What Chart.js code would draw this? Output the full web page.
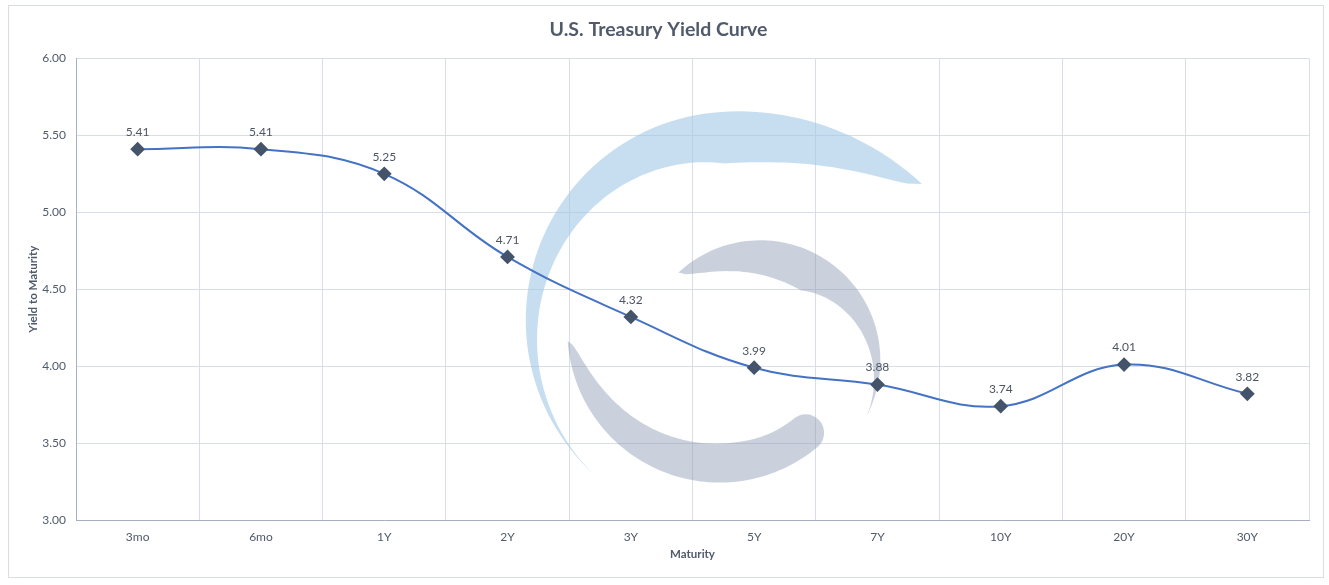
<!DOCTYPE html>
<html>
<head>
<meta charset="utf-8">
<script src="https://cdn.jsdelivr.net/npm/chart.js@4.4.0/dist/chart.umd.min.js"></script>
<style>
  body { margin: 0; background: #fff; }
  canvas { display: block; }
</style>
</head>
<body>
<canvas id="yieldChart" width="1329" height="585"></canvas>
<script>
/* DATA */
var maturities = ['3mo', '6mo', '1Y', '2Y', '3Y', '5Y', '7Y', '10Y', '20Y', '30Y'];
var yields = [5.41, 5.41, 5.25, 4.71, 4.32, 3.99, 3.88, 3.74, 4.01, 3.82];
var yMin = 3.0, yMax = 6.0, yStep = 0.5;

var FONT = "Lato, 'Open Sans', sans-serif";
var TEXT = '#505a6b';

/* frame around the whole chart */
var framePlugin = {
	id: 'frame',
	beforeDraw: function(chart) {
		var ctx = chart.ctx;
		ctx.save();
		ctx.fillStyle = '#fff';
		ctx.fillRect(0, 0, chart.width, chart.height);
		ctx.strokeStyle = '#d9dde4';
		ctx.lineWidth = 1;
		ctx.strokeRect(8.5, 5.5, chart.width - 14, chart.height - 13);
		ctx.restore();
	}
};

/* faint logo behind the line */
function crescent(ctx, cx, cy, r, a0, a1, wMax, peak, wEnd, ext) {
	var n = 80, i, t, a, w, ro, pts = [];
	for (i = 0; i <= n; i++) {
		t = i / n;
		if (t < peak) w = wMax * Math.pow(Math.sin(Math.PI / 2 * t / peak), 0.6);
		else w = wEnd + (wMax - wEnd) * Math.pow(1 - (t - peak) / (1 - peak), 1.4);
		ro = r + (t < peak ? ext * Math.pow(1 - t / peak, 2) : 0);
		a = a0 + (a1 - a0) * t;
		pts.push([a, w, ro]);
	}
	ctx.beginPath();
	for (i = 0; i <= n; i++) {
		ctx.lineTo(cx + pts[i][2] * Math.cos(pts[i][0]), cy + pts[i][2] * Math.sin(pts[i][0]));
	}
	for (i = n; i >= 0; i--) {
		ctx.lineTo(cx + (pts[i][2] - pts[i][1]) * Math.cos(pts[i][0]), cy + (pts[i][2] - pts[i][1]) * Math.sin(pts[i][0]));
	}
	ctx.closePath();
	if (wEnd > 0) {
		var rm = r - wEnd / 2;
		ctx.moveTo(cx + rm * Math.cos(a1) + wEnd / 2, cy + rm * Math.sin(a1));
		ctx.arc(cx + rm * Math.cos(a1), cy + rm * Math.sin(a1), wEnd / 2, 0, Math.PI * 2, a1 < a0);
	}
	ctx.fill('nonzero');
}

var logoPlugin = {
	id: 'logo',
	beforeDatasetsDraw: function(chart) {
		var ctx = chart.ctx, a = chart.chartArea;
		var w = a.right - a.left, h = a.bottom - a.top;
		var deg = Math.PI / 180;
		ctx.save();
		ctx.fillStyle = 'rgba(160,200,228,0.6)';
		crescent(ctx, a.left + 0.534 * w, a.top + 0.567 * h, 0.452 * h, -36 * deg, -228 * deg, 0.112 * h, 0.3, 0, 0.05 * h);
		ctx.fillStyle = 'rgba(140,152,178,0.45)';
		crescent(ctx, a.left + 0.555 * w, a.top + 0.654 * h, 0.26 * h, -133 * deg, 29 * deg, 0.085 * h, 0.45, 0, 0);
		crescent(ctx, a.left + 0.522 * w, a.top + 0.589 * h, 0.33 * h, 176 * deg, 50 * deg, 0.085 * h, 0.75, 0.08 * h, 0);
		ctx.restore();
	}
};

/* value labels above each point */
var labelPlugin = {
	id: 'valueLabels',
	afterDatasetsDraw: function(chart) {
		var ctx = chart.ctx;
		var meta = chart.getDatasetMeta(0);
		ctx.save();
		ctx.font = '12px ' + FONT;
		ctx.fillStyle = '#4d5563';
		ctx.textAlign = 'center';
		ctx.textBaseline = 'bottom';
		meta.data.forEach(function(pt, i) {
			ctx.fillText(yields[i].toFixed(2), pt.x, pt.y - 11);
		});
		ctx.restore();
	}
};

var ctxLine = document.getElementById('yieldChart').getContext('2d');
var yieldChart = new Chart(ctxLine, {
	type: 'line',
	data: {
		labels: maturities,
		datasets: [{
			data: yields,
			borderColor: '#4472c4',
			borderWidth: 2,
			tension: 0.4,
			pointStyle: 'rectRot',
			pointRadius: 6,
			pointHoverRadius: 6,
			pointBackgroundColor: '#44546a',
			pointBorderColor: '#44546a',
			fill: false
		}]
	},
	options: {
		responsive: false,
		animation: false,
		layout: { padding: { left: 8, right: 20, top: 0, bottom: 20 } },
		plugins: {
			legend: { display: false },
			tooltip: { enabled: false },
			title: {
				display: true,
				text: 'U.S. Treasury Yield Curve',
				color: TEXT,
				font: { family: FONT, size: 19.5, weight: 'bold' },
				padding: { top: 18, bottom: 17 }
			}
		},
		scales: {
			x: {
				offset: true,
				grid: { offset: true, color: '#d9dde6', drawTicks: false },
				border: { color: '#a6b0bf', width: 1 },
				ticks: { color: TEXT, padding: 10, font: { family: FONT, size: 12 }, maxRotation: 0 },
				title: {
					display: true,
					text: 'Maturity',
					color: TEXT,
					font: { family: FONT, size: 11.5, weight: 'bold' },
					padding: { top: 0, bottom: 4 }
				},
				afterFit: function(scale) { scale.height = 45; }
			},
			y: {
				min: yMin,
				max: yMax,
				grid: { color: '#d9dde6', drawTicks: false },
				border: { color: '#a6b0bf', width: 1 },
				ticks: {
					stepSize: yStep,
					color: TEXT,
					padding: 10,
					font: { family: FONT, size: 12 },
					callback: function(v) { return Number(v).toFixed(2); }
				},
				title: {
					display: true,
					text: 'Yield to Maturity',
					color: TEXT,
					font: { family: FONT, size: 11.5, weight: 'bold' },
					padding: { top: 18, bottom: 0 }
				},
				afterFit: function(scale) { scale.width = 68; }
			}
		}
	},
	plugins: [framePlugin, logoPlugin, labelPlugin]
});
</script>
</body>
</html>
